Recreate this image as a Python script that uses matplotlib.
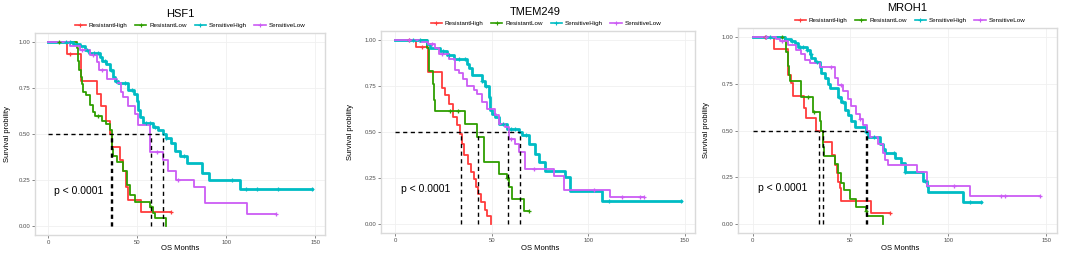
import matplotlib
matplotlib.use("Agg")
import matplotlib.pyplot as plt
from matplotlib.lines import Line2D
import numpy as np

plt.rcParams["font.family"] = ["Liberation Sans", "DejaVu Sans"]

GROUPS = ["ResistantHigh", "ResistantLow", "SensitiveHigh", "SensitiveLow"]
COLORS = ["#FF3B3B", "#2E9E00", "#00BCC4", "#CC5CF5"]

# ---- HSF1 ----
hsf1_rh_time = [0, 10.5, 18.4, 27.2, 29.6, 32.4, 34.7, 35.8, 40.3, 42, 43.7, 44.6, 52.3]
hsf1_rh_surv = [1, 0.936, 0.79, 0.72, 0.655, 0.573, 0.50, 0.43, 0.36, 0.30, 0.21, 0.143, 0.073]
hsf1_rh_cens = [12.5, 69]
hsf1_rl_time = [0, 15.9, 16.9, 17.4, 18.2, 18.8, 19.7, 21.2, 23.4, 25, 26.3, 30, 32.4,
                34.7, 35.8, 36.5, 38.4, 42, 44, 46, 48.8, 57.2, 59, 60, 66]
hsf1_rl_surv = [1, 0.97, 0.90, 0.85, 0.81, 0.77, 0.73, 0.71, 0.66, 0.62, 0.60, 0.57, 0.555,
                0.52, 0.42, 0.38, 0.35, 0.30, 0.22, 0.17, 0.13, 0.10, 0.07, 0.04, 0.0]
hsf1_rl_cens = [6.2, 28, 57.5]
hsf1_sh_time = [0, 14, 17.8, 20.6, 23, 29, 30, 32.4, 34.7, 36.6, 37.5, 39.4, 45, 48.2, 49.7,
                50.6, 51.6, 53, 59, 61.9, 64.7, 66, 68.8, 71.3, 74, 78.2, 86.3, 90.4, 107.5]
hsf1_sh_surv = [1, 0.99, 0.98, 0.96, 0.94, 0.92, 0.90, 0.88, 0.85, 0.81, 0.79, 0.78, 0.74, 0.72,
                0.68, 0.63, 0.59, 0.56, 0.54, 0.52, 0.50, 0.48, 0.45, 0.41, 0.38, 0.34, 0.29,
                0.25, 0.20]
hsf1_sh_cens = [10, 12, 22, 26, 28, 32, 35, 38, 43, 47, 55, 57, 60, 66, 76, 103, 111, 117.5,
                129, 148]
hsf1_sl_time = [0, 12, 17.8, 23.4, 27.2, 28.7, 32.8, 38.4, 40.7, 42, 45, 48.8, 50.6, 57.2,
                64.7, 67.5, 71.6, 82, 88, 111.6]
hsf1_sl_surv = [1, 0.98, 0.96, 0.93, 0.89, 0.85, 0.80, 0.78, 0.73, 0.70, 0.65, 0.61, 0.55,
                0.40, 0.36, 0.30, 0.25, 0.21, 0.125, 0.065]
hsf1_sl_cens = [19, 25, 30, 61, 73, 128]
hsf1_medians = [35.5, 36.0, 57.5, 64.7]

# ---- TMEM249 ----
tmem_rh_time = [0, 11, 17.1, 24, 26, 27.7, 30, 31.8, 33.5, 34.4, 35.8, 37.8, 39.5, 41, 42.1,
                43, 44.7, 46.5, 47.4, 49.6]
tmem_rh_surv = [1, 0.963, 0.827, 0.74, 0.70, 0.655, 0.58, 0.536, 0.49, 0.436, 0.373, 0.327,
                0.28, 0.245, 0.20, 0.164, 0.118, 0.073, 0.045, 0.0]
tmem_rh_cens = [7, 14]
tmem_rl_time = [0, 16.4, 17.3, 19.4, 20.2, 20.7, 36.3, 42.3, 45.8, 53.6, 57.9, 58.8, 60.5, 66.5]
tmem_rl_surv = [1, 0.96, 0.83, 0.764, 0.673, 0.613, 0.545, 0.473, 0.336, 0.273, 0.25, 0.20,
                0.136, 0.069]
tmem_rl_cens = [28.5, 32.5, 58, 69.1]
tmem_sh_time = [0, 16.4, 18.1, 23.3, 26.8, 30.2, 37.2, 38, 39.7, 44.9, 46.7, 48.4, 49.2, 50.1,
                51.8, 53.6, 57.9, 63.9, 65.7, 69.1, 72.6, 74.3, 77.8, 88.2, 90.4, 107.3]
tmem_sh_surv = [1, 0.98, 0.96, 0.94, 0.92, 0.895, 0.87, 0.85, 0.81, 0.78, 0.75, 0.69, 0.62,
                0.60, 0.58, 0.545, 0.518, 0.50, 0.482, 0.436, 0.382, 0.336, 0.29, 0.254, 0.18,
                0.123]
tmem_sh_cens = [9, 13, 25, 28, 33, 36, 45, 47, 56, 60, 62, 68, 111, 148]
tmem_sl_time = [0, 13, 17, 20.7, 22.5, 27.6, 31.1, 32.8, 34.9, 37.2, 40.6, 42.3, 44.9, 47.5,
                51.8, 53.6, 57, 58.8, 62.2, 63.9, 67.4, 82.2, 87.4, 111.3]
tmem_sl_surv = [1, 0.99, 0.98, 0.96, 0.927, 0.90, 0.84, 0.82, 0.79, 0.75, 0.73, 0.705, 0.664,
                0.627, 0.59, 0.545, 0.527, 0.46, 0.433, 0.391, 0.30, 0.26, 0.185, 0.145]
tmem_sl_cens = [7, 19, 24, 60, 72, 103, 117.5, 127, 129]
tmem_medians = [34.2, 42.7, 58.2, 64.8]

# ---- MROH1 ----
mroh_rh_time = [0, 11, 18.2, 19.9, 20.7, 26.3, 27.5, 32.6, 36, 40.6, 42, 42.9, 43.7, 44.5, 45,
                60.7]
mroh_rh_surv = [1, 0.94, 0.80, 0.756, 0.684, 0.62, 0.568, 0.50, 0.44, 0.37, 0.317, 0.27,
                0.226, 0.19, 0.12, 0.06]
mroh_rh_cens = [6.3, 70]
mroh_rl_time = [0, 16.5, 17.3, 17.9, 18.7, 19, 24.5, 25, 31, 34.4, 34.9, 36, 36.6, 42, 43.7,
                45.4, 46.6, 49.7, 53, 57.8, 58.5, 66.7]
mroh_rl_surv = [1, 0.98, 0.92, 0.844, 0.80, 0.763, 0.72, 0.682, 0.60, 0.55, 0.50, 0.41, 0.363,
                0.32, 0.27, 0.22, 0.18, 0.13, 0.09, 0.07, 0.04, 0.0]
mroh_rl_cens = [14.8, 28.4, 31.5, 58]
mroh_sh_time = [0, 16.5, 19.9, 21.6, 23.3, 27.6, 29.3, 30.1, 31.8, 34.4, 35.2, 36.9, 38.6,
                39.5, 43.7, 45.4, 47.1, 48.8, 50.5, 52.2, 57.8, 59, 65, 66.7, 67.5, 72.6, 76,
                77.7, 87, 88.8, 89.6, 107.5]
mroh_sh_surv = [1, 0.99, 0.98, 0.97, 0.95, 0.93, 0.91, 0.89, 0.87, 0.84, 0.81, 0.78, 0.75,
                0.727, 0.68, 0.655, 0.61, 0.583, 0.55, 0.52, 0.49, 0.467, 0.43, 0.40, 0.377,
                0.35, 0.323, 0.28, 0.23, 0.20, 0.17, 0.117]
mroh_sh_cens = [7, 9, 20, 24, 26, 28, 30, 33, 44, 46, 58, 62, 72, 78, 88, 111, 116.8]
mroh_sl_time = [0, 12.2, 14, 18.2, 22.4, 25, 26.7, 29.3, 34.4, 42, 43.7, 46.3, 48.8, 50.5, 53,
                54.8, 56.5, 58.2, 59.9, 64.1, 66.7, 67.5, 69.2, 83.7, 88.8, 110.9]
mroh_sl_surv = [1, 0.99, 0.98, 0.96, 0.93, 0.91, 0.88, 0.86, 0.84, 0.78, 0.745, 0.71, 0.67,
                0.634, 0.59, 0.56, 0.53, 0.50, 0.463, 0.43, 0.38, 0.34, 0.314, 0.275, 0.203,
                0.149]
mroh_sl_cens = [6.8, 15, 40.3, 45, 55, 103, 127, 128.7, 146.6]
mroh_medians = [34.0, 36.0, 57.7, 58.3]

panels = [
    ("HSF1",
     [(hsf1_rh_time, hsf1_rh_surv, hsf1_rh_cens), (hsf1_rl_time, hsf1_rl_surv, hsf1_rl_cens),
      (hsf1_sh_time, hsf1_sh_surv, hsf1_sh_cens), (hsf1_sl_time, hsf1_sl_surv, hsf1_sl_cens)],
     hsf1_medians),
    ("TMEM249",
     [(tmem_rh_time, tmem_rh_surv, tmem_rh_cens), (tmem_rl_time, tmem_rl_surv, tmem_rl_cens),
      (tmem_sh_time, tmem_sh_surv, tmem_sh_cens), (tmem_sl_time, tmem_sl_surv, tmem_sl_cens)],
     tmem_medians),
    ("MROH1",
     [(mroh_rh_time, mroh_rh_surv, mroh_rh_cens), (mroh_rl_time, mroh_rl_surv, mroh_rl_cens),
      (mroh_sh_time, mroh_sh_surv, mroh_sh_cens), (mroh_sl_time, mroh_sl_surv, mroh_sl_cens)],
     mroh_medians),
]

# pixel layout: axes box (left, top, right, bottom), title y, legend y, ylabel x
W, H = 1065, 254
layout = [
    dict(box=(35, 33, 325, 235), title=(180, 14), legend=(190, 25), ylab=8, xlab=180),
    dict(box=(381, 31, 695, 233), title=(535, 12), legend=(546, 23), ylab=350, xlab=540),
    dict(box=(738, 28, 1057, 233), title=(907, 8), legend=(910, 20), ylab=707, xlab=900),
]


def fx(px):
    return px / W


def fy(py):
    return 1 - py / H


def plot_km(ax, series, medians):
    for (t, s, cens), name, color in zip(series, GROUPS, COLORS):
        end = max(t[-1], max(cens))
        xs = list(t) + [end]
        ys = list(s) + [s[-1]]
        lw = 2.0 if name == "SensitiveHigh" else 1.3
        ax.step(xs, ys, where="post", color=color, lw=lw, zorder=3)
        idx = np.searchsorted(t, cens, side="right") - 1
        ax.plot(cens, np.array(s)[idx], "+", color=color, ms=3.5, mew=0.9, zorder=4)

    for m in medians:
        ax.plot([m, m], [0, 0.5], color="black", lw=1.0, dashes=(3, 2.5), zorder=5)
    ax.plot([0, max(medians)], [0.5, 0.5], color="black", lw=1.0, dashes=(3, 2.5), zorder=5)

    ax.text(3, 0.19, "p < 0.0001", fontsize=7.5, va="center", ha="left")

    ax.set_xlim(-7.4, 155.4)
    ax.set_ylim(-0.05, 1.05)
    ax.set_xticks([0, 50, 100, 150])
    ax.set_yticks([0, 0.25, 0.5, 0.75, 1.0])
    ax.set_yticklabels(["0.00", "0.25", "0.50", "0.75", "1.00"])
    ax.tick_params(length=2, width=0.5, color="#555555", labelsize=4.3,
                   labelcolor="#4D4D4D", pad=1.5)
    ax.grid(True, color="#F0F0F0", lw=0.6)
    ax.set_axisbelow(True)
    for sp in ax.spines.values():
        sp.set_color("#DADADA")
        sp.set_linewidth(1.0)


fig = plt.figure(figsize=(10.65, 2.54), dpi=100)

handles = [Line2D([], [], color=c, lw=1.2, marker="+", ms=3, mew=0.8) for c in COLORS]

for (title, series, medians), lay in zip(panels, layout):
    l, t, r, b = lay["box"]
    ax = fig.add_axes([fx(l), fy(b), fx(r - l), (b - t) / H])
    plot_km(ax, series, medians)

    fig.text(fx(lay["title"][0]), fy(lay["title"][1]), title, fontsize=8,
             ha="center", va="center")
    fig.legend(handles, GROUPS, loc="center", ncol=4, frameon=False,
               bbox_to_anchor=(fx(lay["legend"][0]), fy(lay["legend"][1])),
               fontsize=4.5, handlelength=1.8, columnspacing=1.2, handletextpad=0.5)
    fig.text(fx(lay["ylab"]), fy((t + b) / 2), "Survival probility", fontsize=5.5,
             rotation=90, ha="center", va="center")
    fig.text(fx(lay["xlab"]), fy(248), "OS Months", fontsize=5.5, ha="center", va="center")

fig.savefig("out.png", dpi=100)
